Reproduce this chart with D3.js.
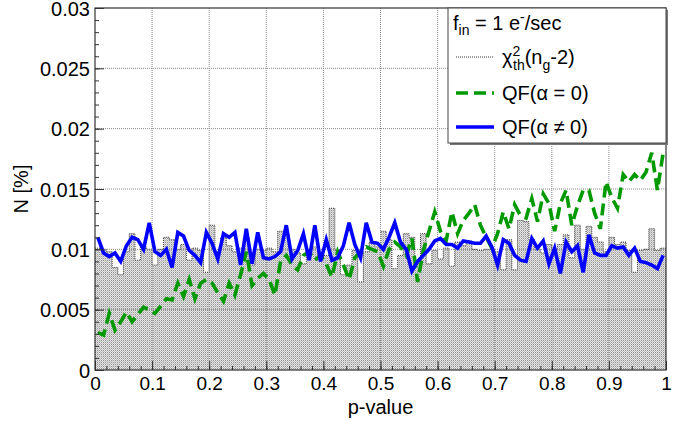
<!DOCTYPE html>
<html>
<head>
<meta charset="utf-8">
<script src="https://cdn.jsdelivr.net/npm/d3@7"></script>
<style>
  body { margin: 0; background: #fff; }
  text { font-family: "Liberation Sans", Arial, sans-serif; fill: #000; }
</style>
</head>
<body>
<script>
// p-value distributions, 100 bins of width 0.01
var binWidth = 0.01;
var pBins = d3.range(100).map(function(i) { return i * binWidth; });

// chi2_th(n_g-2) reference histogram
var chi2Hist = [
  0.0101, 0.0100, 0.0098, 0.0085, 0.0079, 0.0098, 0.0113, 0.0091, 0.0102, 0.0100,
  0.0087, 0.0100, 0.0110, 0.0108, 0.0100, 0.0104, 0.0091, 0.0101, 0.0099, 0.0081,
  0.0120, 0.0098, 0.0110, 0.0103, 0.0098, 0.0101, 0.0110, 0.0087, 0.0100, 0.0099,
  0.0101, 0.0098, 0.0115, 0.0112, 0.0100, 0.0097, 0.0088, 0.0100, 0.0102, 0.0093,
  0.0095, 0.0134, 0.0099, 0.0079, 0.0087, 0.0099, 0.0073, 0.0098, 0.0106, 0.0102,
  0.0115, 0.0108, 0.0084, 0.0095, 0.0113, 0.0110, 0.0088, 0.0113, 0.0088, 0.0099,
  0.0092, 0.0101, 0.0086, 0.0106, 0.0103, 0.0107, 0.0100, 0.0099, 0.0100, 0.0100,
  0.0098, 0.0083, 0.0108, 0.0083, 0.0124, 0.0123, 0.0108, 0.0100, 0.0097, 0.0104,
  0.0100, 0.0104, 0.0112, 0.0093, 0.0120, 0.0100, 0.0119, 0.0110, 0.0106, 0.0098,
  0.0110, 0.0104, 0.0106, 0.0099, 0.0081, 0.0099, 0.0100, 0.0117, 0.0099, 0.0101
];

// QF(alpha = 0)
var qfAlpha0 = [
  0.0031, 0.0029, 0.0047, 0.0033, 0.0040, 0.0048, 0.0040, 0.0046, 0.0052, 0.0050,
  0.0047, 0.0053, 0.0059, 0.0058, 0.0072, 0.0061, 0.0075, 0.0059, 0.0072, 0.0075,
  0.0072, 0.0064, 0.0057, 0.0072, 0.0062, 0.0079, 0.0098, 0.0070, 0.0076, 0.0080,
  0.0075, 0.0062, 0.0090, 0.0095, 0.0087, 0.0083, 0.0095, 0.0098, 0.0091, 0.0095,
  0.0088, 0.0077, 0.0098, 0.0087, 0.0075, 0.0093, 0.0098, 0.0102, 0.0100, 0.0098,
  0.0086, 0.0100, 0.0106, 0.0102, 0.0095, 0.0109, 0.0073, 0.0099, 0.0115, 0.0131,
  0.0115, 0.0107, 0.0131, 0.0113, 0.0124, 0.0130, 0.0137, 0.0120, 0.0110, 0.0101,
  0.0113, 0.0131, 0.0117, 0.0137, 0.0128, 0.0126, 0.0142, 0.0123, 0.0146, 0.0138,
  0.0115, 0.0138, 0.0149, 0.0120, 0.0136, 0.0149, 0.0149, 0.0130, 0.0117, 0.0156,
  0.0143, 0.0134, 0.0162, 0.0156, 0.0162, 0.0157, 0.0164, 0.0180, 0.0149, 0.0180
];

// QF(alpha != 0)
var qfAlphaN0 = [
  0.0110, 0.0097, 0.0094, 0.0097, 0.0090, 0.0103, 0.0110, 0.0108, 0.0100, 0.0122,
  0.0098, 0.0095, 0.0100, 0.0085, 0.0114, 0.0111, 0.0099, 0.0095, 0.0089, 0.0114,
  0.0105, 0.0092, 0.0113, 0.0110, 0.0114, 0.0087, 0.0117, 0.0088, 0.0114, 0.0093,
  0.0092, 0.0094, 0.0098, 0.0120, 0.0092, 0.0099, 0.0113, 0.0091, 0.0120, 0.0090,
  0.0108, 0.0091, 0.0093, 0.0103, 0.0122, 0.0104, 0.0093, 0.0122, 0.0106, 0.0105,
  0.0100, 0.0110, 0.0122, 0.0106, 0.0100, 0.0082, 0.0090, 0.0095, 0.0100, 0.0107,
  0.0109, 0.0104, 0.0104, 0.0101, 0.0107, 0.0106, 0.0105, 0.0105, 0.0111, 0.0102,
  0.0087, 0.0108, 0.0105, 0.0095, 0.0091, 0.0090, 0.0109, 0.0101, 0.0107, 0.0088,
  0.0101, 0.0080, 0.0106, 0.0098, 0.0103, 0.0081, 0.0112, 0.0097, 0.0095, 0.0095,
  0.0103, 0.0101, 0.0102, 0.0095, 0.0101, 0.0090, 0.0089, 0.0087, 0.0084, 0.0095
];

var xTicks = [0, 0.1, 0.2, 0.3, 0.4, 0.5, 0.6, 0.7, 0.8, 0.9, 1];
var yTicks = [0, 0.005, 0.01, 0.015, 0.02, 0.025, 0.03];
var xTickLabels = ["0", "0.1", "0.2", "0.3", "0.4", "0.5", "0.6", "0.7", "0.8", "0.9", "1"];
var yTickLabels = ["0", "0.005", "0.01", "0.015", "0.02", "0.025", "0.03"];

var width = 699, height = 421;
var margin = { top: 8, right: 33, bottom: 51, left: 95 };
var plotW = width - margin.left - margin.right;
var plotH = height - margin.top - margin.bottom;

var svg = d3.select("body").append("svg")
    .attr("width", width)
    .attr("height", height);

// stipple fill like ROOT's fill style
var defs = svg.append("defs");
var pat = defs.append("pattern")
    .attr("id", "stipple")
    .attr("width", 2).attr("height", 2)
    .attr("patternUnits", "userSpaceOnUse");
pat.append("rect").attr("width", 2).attr("height", 2).attr("fill", "#e2e2e2");
pat.append("rect").attr("width", 1).attr("height", 1).attr("fill", "#959595");
pat.append("rect").attr("x", 1).attr("y", 1).attr("width", 1).attr("height", 1).attr("fill", "#c4c4c4");

var g = svg.append("g").attr("transform", "translate(" + margin.left + "," + margin.top + ")");

var x = d3.scaleLinear().domain([0, 1]).range([0, plotW]);
var y = d3.scaleLinear().domain([0, 0.03]).range([plotH, 0]);

// histogram
var histPts = pBins.map(function(p, i) { return [p, chi2Hist[i]]; });
histPts.push([1, chi2Hist[chi2Hist.length - 1]]);

g.append("path")
    .datum(histPts)
    .attr("fill", "url(#stipple)")
    .attr("d", d3.area()
      .x(function(d) { return x(d[0]); })
      .y0(y(0))
      .y1(function(d) { return y(d[1]); })
      .curve(d3.curveStepAfter));

g.append("path")
    .datum(histPts)
    .attr("fill", "none")
    .attr("stroke", "#333")
    .attr("stroke-width", 1)
    .attr("stroke-dasharray", "1,1")
    .attr("d", d3.line()
      .x(function(d) { return x(d[0]); })
      .y(function(d) { return y(d[1]); })
      .curve(d3.curveStepAfter));

// grid
g.selectAll(".gx").data(xTicks.slice(1, -1)).enter().append("line")
    .attr("x1", function(d) { return x(d); }).attr("x2", function(d) { return x(d); })
    .attr("y1", 0).attr("y2", plotH)
    .attr("stroke", "#888").attr("stroke-dasharray", "1,1");
g.selectAll(".gy").data(yTicks.slice(1, -1)).enter().append("line")
    .attr("x1", 0).attr("x2", plotW)
    .attr("y1", function(d) { return y(d); }).attr("y2", function(d) { return y(d); })
    .attr("stroke", "#888").attr("stroke-dasharray", "1,1");

// curves
var curveLine = d3.line()
    .x(function(d, i) { return x(pBins[i] + binWidth / 2); })
    .y(function(d) { return y(d); });

g.append("path")
    .datum(qfAlpha0)
    .attr("fill", "none")
    .attr("stroke", "#009a00")
    .attr("stroke-width", 3.6)
    .attr("stroke-dasharray", "12,6")
    .attr("d", curveLine);

g.append("path")
    .datum(qfAlphaN0)
    .attr("fill", "none")
    .attr("stroke", "#0000ff")
    .attr("stroke-width", 3.6)
    .attr("d", curveLine);

// axes, ticks inside the frame
var xAxis = g.append("g").attr("transform", "translate(0," + plotH + ")");
xAxis.call(d3.axisBottom(x).tickValues(d3.range(0, 1.0001, 0.02)).tickSize(-4).tickFormat(""));
xAxis.call(function(a) { a.select(".domain").remove(); });
var xMajor = g.append("g").attr("transform", "translate(0," + plotH + ")")
    .call(d3.axisBottom(x).tickValues(xTicks).tickSize(-9)
      .tickFormat(function(d, i) { return xTickLabels[i]; }));
xMajor.select(".domain").remove();
xMajor.selectAll("text").attr("dy", 0).attr("y", 20).attr("font-size", 19)
    .attr("font-family", "Liberation Sans, Arial, sans-serif");

var yAxis = g.append("g");
yAxis.call(d3.axisLeft(y).tickValues(d3.range(0, 0.03001, 0.001)).tickSize(-4).tickFormat(""));
yAxis.select(".domain").remove();
var yMajor = g.append("g")
    .call(d3.axisLeft(y).tickValues(yTicks).tickSize(-9)
      .tickFormat(function(d, i) { return yTickLabels[i]; }));
yMajor.select(".domain").remove();
yMajor.selectAll("text").attr("x", -5).attr("dy", "0.36em").attr("font-size", 20)
    .attr("font-family", "Liberation Sans, Arial, sans-serif");
svg.selectAll(".tick line").attr("stroke", "#333");

// frame
g.append("rect")
    .attr("width", plotW).attr("height", plotH)
    .attr("fill", "none").attr("stroke", "#333").attr("stroke-width", 1.2);

// axis titles
svg.append("text")
    .attr("x", margin.left + plotW / 2).attr("y", 414)
    .attr("text-anchor", "middle").attr("font-size", 20)
    .text("p-value");
svg.append("text")
    .attr("transform", "translate(28," + (margin.top + plotH / 2) + ") rotate(-90)")
    .attr("text-anchor", "middle").attr("font-size", 20)
    .text("N [%]");

// legend
var lg = svg.append("g").attr("transform", "translate(448,8)");
lg.append("rect").attr("x", 2).attr("y", 2).attr("width", 218).attr("height", 135).attr("fill", "#777");
lg.append("rect").attr("width", 218).attr("height", 135)
    .attr("fill", "#fff").attr("stroke", "#444").attr("stroke-width", 1);

var t0 = lg.append("text").attr("x", 5).attr("y", 22).attr("font-size", 20);
t0.append("tspan").text("f");
t0.append("tspan").attr("dy", 5).attr("font-size", 14).text("in");
t0.append("tspan").attr("dy", -5).text(" = 1 e");
t0.append("tspan").attr("dy", -8).attr("font-size", 14).text("-");
t0.append("tspan").attr("dy", 8).text("/sec");

var entryY = [49, 85, 119];
lg.append("line").attr("x1", 8).attr("x2", 46).attr("y1", entryY[0]).attr("y2", entryY[0])
    .attr("stroke", "#333").attr("stroke-dasharray", "1,1");
lg.append("line").attr("x1", 8).attr("x2", 46).attr("y1", entryY[1]).attr("y2", entryY[1])
    .attr("stroke", "#009a00").attr("stroke-width", 3.6).attr("stroke-dasharray", "12,6");
lg.append("line").attr("x1", 8).attr("x2", 46).attr("y1", entryY[2]).attr("y2", entryY[2])
    .attr("stroke", "#0000ff").attr("stroke-width", 3.6);

var t1 = lg.append("text").attr("x", 54).attr("y", entryY[0] + 7).attr("font-size", 20);
t1.append("tspan").text("\u03c7");
t1.append("tspan").attr("dy", -8).attr("font-size", 14).text("2");
t1.append("tspan").attr("x", 65).attr("dy", 14).attr("font-size", 14).text("th");
t1.append("tspan").attr("dy", -6).text("(n");
t1.append("tspan").attr("dy", 6).attr("font-size", 14).text("g");
t1.append("tspan").attr("dy", -6).text("-2)");

lg.append("text").attr("x", 54).attr("y", entryY[1] + 7).attr("font-size", 20)
    .text("QF(\u03b1 = 0)");
lg.append("text").attr("x", 54).attr("y", entryY[2] + 7).attr("font-size", 20)
    .text("QF(\u03b1 \u2260 0)");
</script>
</body>
</html>
